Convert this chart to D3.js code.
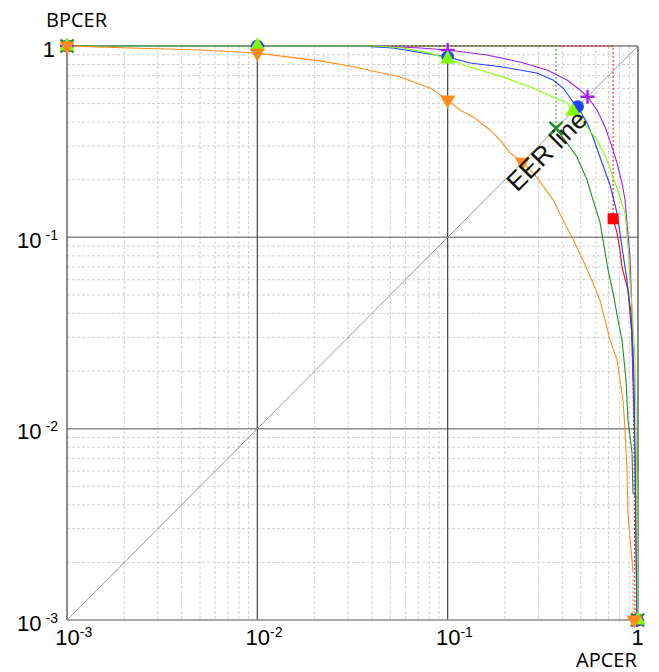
<!DOCTYPE html>
<html><head><meta charset="utf-8">
<script src="https://cdn.jsdelivr.net/npm/d3@7"></script>
<style>body{margin:0;background:#fff}</style>
</head><body>
<svg id="chart" width="659" height="672"></svg>
<script>
// ---------- data ----------
const xTickValues = [0.001, 0.01, 0.1, 1];
const yTickValues = [0.001, 0.01, 0.1, 1];
const tickExponents = ["-3", "-2", "-1", ""];
const xAxisTitle = "APCER";
const yAxisTitle = "BPCER";
const eerLabel = "EER line";
const eerLine = [[0.001, 0.001], [1, 1]];

const orangeCurve = [[0.001,1],[0.00214,0.977],[0.005,0.953],[0.01,0.918],[0.0213,0.836],[0.0307,0.786],[0.0562,0.689],[0.0807,0.603],[0.1,0.523],[0.116,0.463],[0.136,0.426],[0.167,0.364],[0.188,0.323],[0.213,0.276],[0.247,0.247],[0.294,0.2065],[0.358,0.157],[0.404,0.123],[0.45,0.1],[0.514,0.0761],[0.58,0.0577],[0.631,0.047],[0.671,0.037],[0.713,0.0291],[0.776,0.0229],[0.804,0.018],[0.834,0.0141],[0.855,0.0098],[0.875,0.0061],[0.886,0.0036],[0.908,0.0027],[0.941,0.0018]];
const orangeDotted = [[[0.941,0.0018],[0.941,0.001]]];
const orangeMarks = [[0.001,1],[0.01,0.92],[0.1,0.523],[0.247,0.247],[0.955,0.001]];

const purpleCurve = [[0.001,1],[0.0441,1],[0.0716,0.977],[0.1,0.953],[0.161,0.897],[0.24,0.825],[0.333,0.749],[0.424,0.664],[0.496,0.589],[0.543,0.543],[0.609,0.463],[0.671,0.377],[0.73,0.297],[0.776,0.245],[0.824,0.192],[0.855,0.157],[0.875,0.119],[0.908,0.0789],[0.93,0.0402],[0.941,0.018],[0.9645,0.0077],[0.976,0.0026],[0.988,0.001]];
const purpleDotted = [];
const purpleMarks = [[0.001,1],[0.01,1],[0.1,0.953],[0.543,0.543],[0.99,0.001]];

const blueCurve = [[0.001,1],[0.0346,1],[0.0516,0.977],[0.069,0.93],[0.1,0.876],[0.131,0.815],[0.195,0.776],[0.294,0.723],[0.358,0.664],[0.404,0.603],[0.456,0.51],[0.482,0.482],[0.54,0.396],[0.58,0.3345],[0.631,0.263],[0.713,0.1877],[0.776,0.134],[0.824,0.089],[0.875,0.0598],[0.908,0.0402],[0.941,0.0267],[0.953,0.018],[0.9645,0.0077],[0.976,0.0026],[0.988,0.001]];
const blueDotted = [];
const blueMarks = [[0.001,1],[0.01,1],[0.1,0.876],[0.482,0.482],[0.99,0.001]];

const limeCurve = [[0.001,1],[0.0425,1],[0.0582,0.977],[0.0807,0.918],[0.1,0.855],[0.131,0.776],[0.195,0.689],[0.271,0.611],[0.358,0.542],[0.424,0.5035],[0.455,0.455],[0.54,0.377],[0.609,0.323],[0.6875,0.254],[0.74,0.2065],[0.804,0.1625],[0.855,0.134],[0.886,0.089],[0.908,0.0598],[0.941,0.0357],[0.9645,0.0237],[0.976,0.0111],[0.988,0.0042],[1,0.001]];
const limeDotted = [];
const limeMarks = [[0.001,1],[0.01,1],[0.1,0.855],[0.455,0.455],[1,0.001]];

const greenCurve = [[0.371,0.37],[0.424,0.311],[0.478,0.263],[0.54,0.1994],[0.58,0.157],[0.631,0.1202],[0.655,0.0968],[0.696,0.0675],[0.74,0.0512],[0.785,0.037],[0.824,0.0291],[0.844,0.0229],[0.865,0.018],[0.886,0.0111],[0.93,0.0075],[0.941,0.0046],[0.988,0.0044]];
const greenDotted = [[[0.001,1],[0.371,1],[0.371,0.37]],[[0.988,0.0044],[0.988,0.001]]];
const greenMarks = [[0.001,1],[0.371,0.371],[0.995,0.001]];

const redCurve = [[0.74,0.125],[0.776,0.1054],[0.804,0.0859],[0.824,0.07],[0.844,0.0636],[0.886,0.0531],[0.919,0.0402],[0.93,0.0267],[0.941,0.018]];
const redDotted = [[[0.001,1],[0.74,1],[0.74,0.125]],[[0.941,0.018],[0.953,0.0077],[0.9645,0.001]]];
const redMarks = [[0.001,1],[0.74,0.125],[0.985,0.001]];

// ---------- styles ----------
const series = [
  {curve: redCurve, dotted: redDotted, marks: redMarks, color: "#ff0000", mark: "square"},
  {curve: greenCurve, dotted: greenDotted, marks: greenMarks, color: "#1f8f1f", mark: "x"},
  {curve: purpleCurve, dotted: purpleDotted, marks: purpleMarks, color: "#a020f0", mark: "plus"},
  {curve: blueCurve, dotted: blueDotted, marks: blueMarks, color: "#2040ff", mark: "circle"},
  {curve: limeCurve, dotted: limeDotted, marks: limeMarks, color: "#80ff00", mark: "triUp"},
  {curve: orangeCurve, dotted: orangeDotted, marks: orangeMarks, color: "#ff8c1a", mark: "triDown"}
];

const L = 67, R = 638, T = 46, B = 620;
const svg = d3.select("#chart");
const x = d3.scaleLog().domain([0.001, 1]).range([L, R]);
const y = d3.scaleLog().domain([0.001, 1]).range([B, T]);

// minor grid
const minorX = x.ticks().filter(v => !xTickValues.some(t => Math.abs(t - v) / t < 1e-6));
const minorY = y.ticks().filter(v => !yTickValues.some(t => Math.abs(t - v) / t < 1e-6));
const grid = svg.append("g");
grid.selectAll(".mx").data(minorX).join("line")
  .attr("x1", d => x(d)).attr("x2", d => x(d)).attr("y1", T).attr("y2", B)
  .attr("stroke", "#d0d0d0").attr("stroke-width", 1).attr("stroke-dasharray", "3,2");
grid.selectAll(".my").data(minorY).join("line")
  .attr("y1", d => y(d)).attr("y2", d => y(d)).attr("x1", L).attr("x2", R)
  .attr("stroke", "#d0d0d0").attr("stroke-width", 1).attr("stroke-dasharray", "3,2");
// major horizontal
grid.selectAll(".My").data(yTickValues.slice(1, 3)).join("line")
  .attr("y1", d => y(d)).attr("y2", d => y(d)).attr("x1", L).attr("x2", R)
  .attr("stroke", "#8a8a8a").attr("stroke-width", 1.5);
// major vertical
grid.selectAll(".Mx").data(xTickValues.slice(1, 3)).join("line")
  .attr("x1", d => x(d)).attr("x2", d => x(d)).attr("y1", T).attr("y2", B)
  .attr("stroke", "#404040").attr("stroke-width", 1.2);
// frame
grid.append("line").attr("x1", L).attr("x2", R).attr("y1", B).attr("y2", B).attr("stroke", "#8a8a8a").attr("stroke-width", 1.5);
grid.append("line").attr("x1", L).attr("x2", R).attr("y1", T).attr("y2", T).attr("stroke", "#404040").attr("stroke-width", 1.2);
grid.append("line").attr("x1", L).attr("x2", L).attr("y1", T).attr("y2", B).attr("stroke", "#404040").attr("stroke-width", 1.2);
grid.append("line").attr("x1", R).attr("x2", R).attr("y1", T).attr("y2", B).attr("stroke", "#404040").attr("stroke-width", 1.2);

// EER diagonal
const line = d3.line().x(d => x(d[0])).y(d => y(d[1]));
svg.append("path").attr("d", line(eerLine)).attr("fill", "none").attr("stroke", "#9a9a9a").attr("stroke-width", 1);

// curves
const curves = svg.append("g");
series.forEach(s => {
  s.dotted.forEach(seg => {
    curves.append("path").attr("d", line(seg)).attr("fill", "none")
      .attr("stroke", s.color).attr("stroke-width", 1).attr("stroke-dasharray", "2,2");
  });
  curves.append("path").attr("d", line(s.curve)).attr("fill", "none")
    .attr("stroke", s.color).attr("stroke-width", 1.1);
});

// markers
const markPath = {
  square: d3.symbol(d3.symbolSquare, 121)(),
  circle: d3.symbol(d3.symbolCircle, 125)(),
  triUp: d3.symbol(d3.symbolTriangle, 100)(),
  triDown: d3.symbol(d3.symbolTriangle, 100)(),
  plus: "M-7,0H7M0,-7V7",
  x: "M-6.5,-6.5L6.5,6.5M-6.5,6.5L6.5,-6.5"
};
const marks = svg.append("g");
series.forEach(s => {
  const stroked = (s.mark === "plus" || s.mark === "x");
  marks.selectAll(null).data(s.marks).join("path")
    .attr("d", markPath[s.mark])
    .attr("transform", d => `translate(${x(d[0])},${y(d[1])})` + (s.mark === "triDown" ? " rotate(180)" : ""))
    .attr("fill", stroked ? "none" : s.color)
    .attr("stroke", stroked ? s.color : "none")
    .attr("stroke-width", stroked ? 2.4 : 0);
});

// EER label
const dx = x(1) - x(0.001), dy = y(0.001) - y(1);
const ang = -Math.atan2(dy, dx) * 180 / Math.PI;
svg.append("text").text(eerLabel)
  .attr("transform", `translate(553,157) rotate(${ang})`)
  .attr("text-anchor", "middle")
  .attr("font-family", "Liberation Sans, Arial, sans-serif").attr("font-size", 26).attr("fill", "#111");

// axes
const fontNum = "Liberation Sans, Arial, sans-serif";
const xAxis = svg.append("g").attr("transform", `translate(0,${B})`)
  .call(d3.axisBottom(x).tickValues(xTickValues).tickSize(0).tickFormat(""));
xAxis.select(".domain").remove();
xAxis.selectAll(".tick text").each(function(d, i) {
  const t = d3.select(this).attr("y", 25).attr("dy", null)
    .attr("font-family", fontNum).attr("font-size", 22).attr("fill", "#000");
  if (tickExponents[i] === "") {
    t.attr("text-anchor", "middle").attr("x", -1).text("1");
  } else {
    t.attr("text-anchor", "start").text(null);
    const base = t.append("tspan").text("10");
    t.append("tspan").text(tickExponents[i]).attr("font-size", 14).attr("dy", -8);
    t.attr("x", -base.node().getComputedTextLength() / 2);
  }
});
const yAxis = svg.append("g").attr("transform", `translate(${L},0)`)
  .call(d3.axisLeft(y).tickValues(yTickValues).tickSize(0).tickFormat(""));
yAxis.select(".domain").remove();
yAxis.selectAll(".tick text").each(function(d, i) {
  const t = d3.select(this).attr("dy", null).attr("y", 10)
    .attr("font-family", fontNum).attr("font-size", 22).attr("fill", "#000").attr("text-anchor", "end");
  if (tickExponents[i] === "") {
    t.attr("x", -12).text("1");
  } else {
    t.attr("x", -9).text(null);
    t.append("tspan").text("10");
    t.append("tspan").text(tickExponents[i]).attr("font-size", 14).attr("dy", -8).attr("dx", 4);
  }
});

// axis titles
svg.append("text").text(yAxisTitle).attr("x", 46).attr("y", 27)
  .attr("font-family", "Open Sans, sans-serif").attr("font-size", 20).attr("fill", "#000");
svg.append("text").text(xAxisTitle).attr("x", 576).attr("y", 667)
  .attr("font-family", "Open Sans, sans-serif").attr("font-size", 20).attr("fill", "#000");
</script>
</body></html>
